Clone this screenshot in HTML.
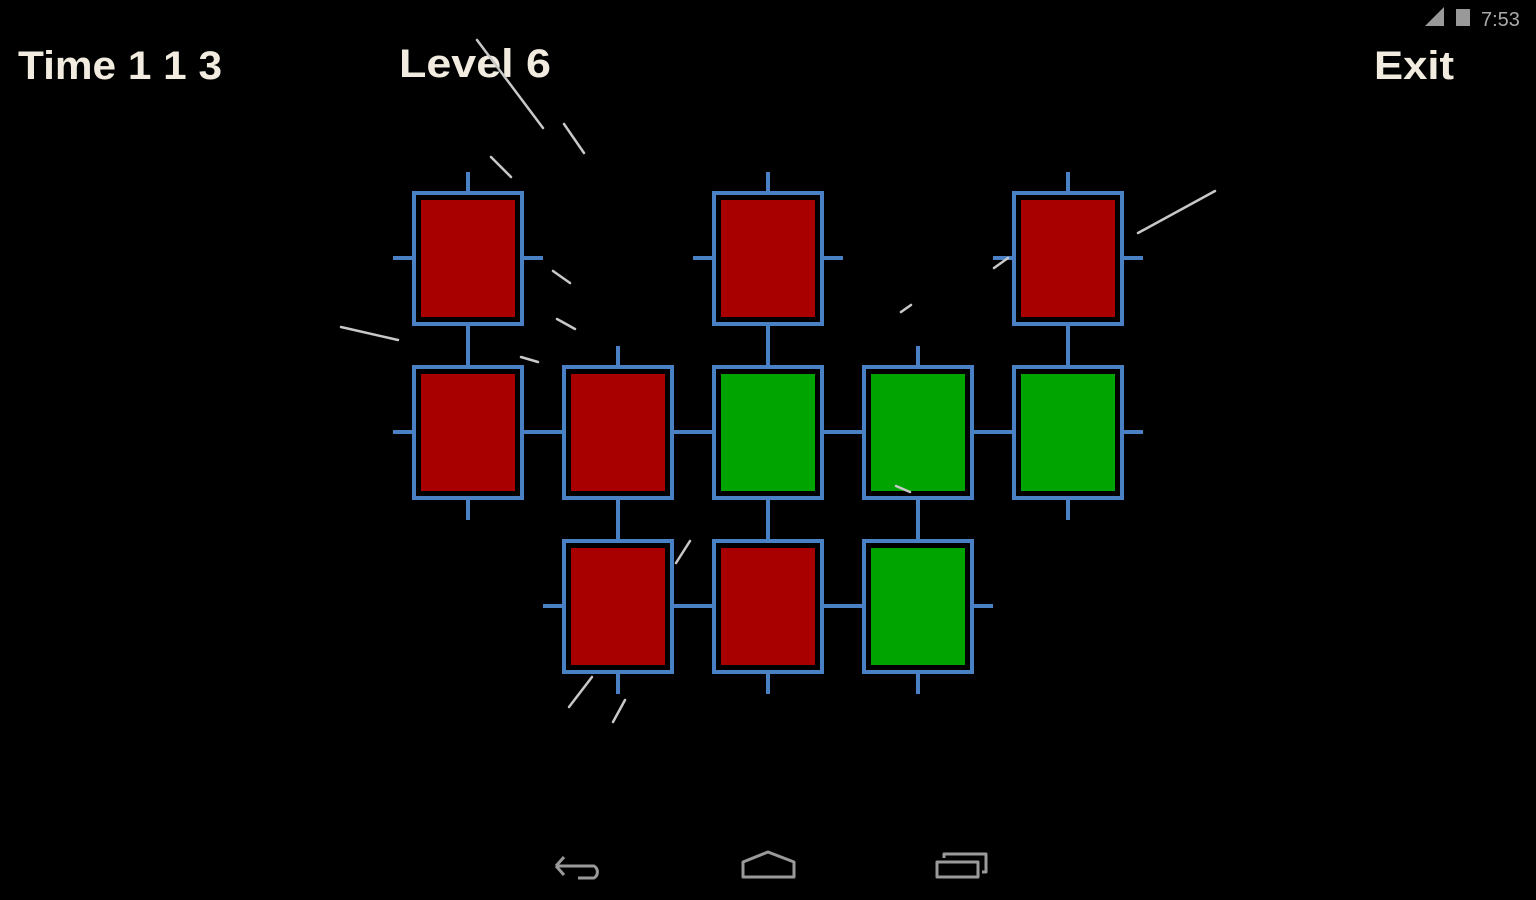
<!DOCTYPE html>
<html><head><style>html,body{margin:0;padding:0;background:#000;width:1536px;height:900px;overflow:hidden}</style></head>
<body>
<svg width="1536" height="900" viewBox="0 0 1536 900" xmlns="http://www.w3.org/2000/svg" xmlns:xlink="http://www.w3.org/1999/xlink">
<defs>
<g id="frame" stroke="#4a80c4" stroke-width="4" fill="none">
<rect x="-54" y="-65" width="108" height="131"/>
<line x1="0" y1="-86" x2="0" y2="-66"/>
<line x1="0" y1="67" x2="0" y2="88"/>
<line x1="-75" y1="0" x2="-55" y2="0"/>
<line x1="55" y1="0" x2="75" y2="0"/>
</g>
<g id="R"><use xlink:href="#frame" href="#frame"/><rect x="-47" y="-58" width="94" height="117" fill="#a80000"/></g>
<g id="G"><use xlink:href="#frame" href="#frame"/><rect x="-47" y="-58" width="94" height="117" fill="#00a400"/></g>
</defs>
<rect width="1536" height="900" fill="#000"/>
<g font-family="Liberation Sans, sans-serif" font-weight="bold" fill="#f2ece0" font-size="40">
<text x="18" y="79" textLength="204" lengthAdjust="spacingAndGlyphs">Time 1 1 3</text>
<text x="399" y="77" textLength="152" lengthAdjust="spacingAndGlyphs">Level 6</text>
<text x="1374" y="79" textLength="80" lengthAdjust="spacingAndGlyphs">Exit</text>
</g>
<text x="1481" y="26" font-family="Liberation Sans, sans-serif" font-size="20" fill="#aaa">7:53</text>
<rect x="1456" y="9" width="14" height="17" fill="#999"/>
<path d="M1425 26 L1444 7 L1444 26 Z" fill="#999"/>

<use href="#R" xlink:href="#R" transform="translate(468,258)"/>
<use href="#R" xlink:href="#R" transform="translate(768,258)"/>
<use href="#R" xlink:href="#R" transform="translate(1068,258)"/>
<use href="#R" xlink:href="#R" transform="translate(468,432)"/>
<use href="#R" xlink:href="#R" transform="translate(618,432)"/>
<use href="#G" xlink:href="#G" transform="translate(768,432)"/>
<use href="#G" xlink:href="#G" transform="translate(918,432)"/>
<use href="#G" xlink:href="#G" transform="translate(1068,432)"/>
<use href="#R" xlink:href="#R" transform="translate(618,606)"/>
<use href="#R" xlink:href="#R" transform="translate(768,606)"/>
<use href="#G" xlink:href="#G" transform="translate(918,606)"/>

<g stroke="#c8c8c8" stroke-width="2.5" stroke-linecap="round">
<line x1="477" y1="40" x2="543" y2="128"/><line x1="564" y1="124" x2="584" y2="153"/>
<line x1="491" y1="157" x2="511" y2="177"/><line x1="1138" y1="233" x2="1215" y2="191"/>
<line x1="341" y1="327" x2="398" y2="340"/><line x1="553" y1="271" x2="570" y2="283"/>
<line x1="557" y1="319" x2="575" y2="329"/><line x1="521" y1="357" x2="538" y2="362"/>
<line x1="994" y1="268" x2="1008" y2="258"/><line x1="901" y1="312" x2="911" y2="305"/>
<line x1="676" y1="563" x2="690" y2="541"/><line x1="569" y1="707" x2="592" y2="677"/>
<line x1="613" y1="722" x2="625" y2="700"/><line x1="896" y1="486" x2="910" y2="492"/>
</g>
<g stroke="#9a9a9a" stroke-width="3" fill="none" stroke-linejoin="round">
<path d="M556 866 L564 857 M556 866 L564 875 M556 866 L594 866 A7 7 0 0 1 594 878 L578 878"/>
<path d="M743 877 L743 862 L768 852 L794 862 L794 877 Z"/>
<rect x="937" y="862" width="41" height="15"/>
<path d="M944 858 L944 854 L986 854 L986 872 L982 872"/>
</g>
</svg>
</body></html>
